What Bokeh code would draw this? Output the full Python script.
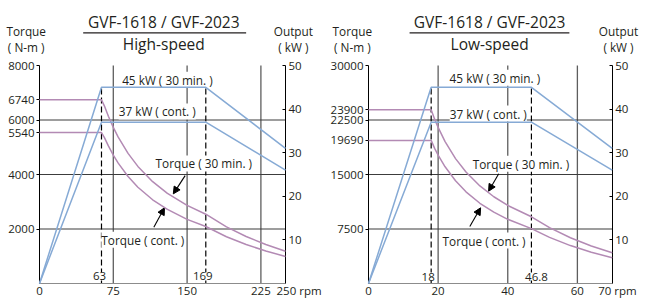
from bokeh.plotting import figure
from bokeh.models import Range1d, LinearAxis, FixedTicker, Label, Arrow, NormalHead
from bokeh.layouts import row
from bokeh.embed import file_html
from bokeh.resources import INLINE

FONT = "Open Sans"
TXT = "#231f20"
PINK = "#b38ab4"
BLUE = "#86aad5"
VGRID = "#5e5e5e"
HGRID = "#3c3c3c"

# ---------------- data: high-speed ----------------
hs_rpm = [0, 63, 66, 70, 75, 80, 90, 100, 115, 130, 150, 169, 190, 210, 230, 250]
hs_torque_30 = [6740, 6740, 6511, 6139, 5730, 5371, 4775, 4297, 3737, 3305, 2865, 2543, 2079, 1724, 1431, 1184]
hs_torque_cont = [5540, 5540, 5353, 5048, 4711, 4416, 3926, 3533, 3072, 2718, 2355, 2091, 1716, 1429, 1192, 993]
hs_power_rpm = [0, 63, 169, 250]
hs_power_30 = [0, 45, 45, 31]
hs_power_cont = [0, 37, 37, 26]
hs_base = [63, 169]
hs_base_labels = ["63", "169"]
hs_xticks = [0, 75, 150, 225, 250]
hs_yticks = [2000, 4000, 5540, 6000, 6740, 8000]
hs_xgrid = [75, 150, 225]
hs_ygrid = [2000, 4000, 6000]

# ---------------- data: low-speed ----------------
ls_rpm = [0, 18, 19, 20, 22, 25, 28, 32, 36, 40, 46.8, 52, 58, 64, 70]
ls_torque_30 = [23900, 23900, 22616, 21486, 19533, 17189, 15347, 13429, 11937, 10743, 9182, 7687, 6296, 5166, 4229]
ls_torque_cont = [19690, 19690, 18596, 17666, 16061, 14133, 12619, 11041, 9815, 8833, 7550, 6341, 5218, 4303, 3547]
ls_power_rpm = [0, 18, 46.8, 70]
ls_power_30 = [0, 45, 45, 31]
ls_power_cont = [0, 37, 37, 26]
ls_base = [18, 46.8]
ls_base_labels = ["18", "46.8"]
ls_xticks = [0, 20, 40, 60, 70]
ls_yticks = [7500, 15000, 19690, 22500, 23900, 30000]
ls_xgrid = [20, 40, 60]
ls_ygrid = [7500, 15000, 22500]

power_ticks = [10, 20, 30, 40, 50]
power_max = 50
max_power = 45

title_text = "GVF-1618 / GVF-2023"

H = 298
FRAME_TOP, FRAME_BOTTOM = 65, 283


def lab(p, x, y, text, size="11.8px", align="center", bg=None, xo=0, yo=0):
    kw = {}
    if bg:
        kw["background_fill_color"] = bg
    p.add_layout(Label(x=x, y=y, text=text, text_font=FONT, text_font_size=size,
                       text_color=TXT, text_align=align, text_baseline="middle",
                       x_offset=xo, y_offset=yo, **kw))


def panel(width, px0, px1, xmax, ymax, xticks, yticks, xgrid, ygrid,
          rpm, t30, tc, prpm, p30, pc, base, base_labels, cfg):
    # map pixel layout to data ranges so the whole canvas is the frame
    sx = (px1 - px0) / xmax
    sy = (FRAME_BOTTOM - FRAME_TOP) / ymax
    spw = (FRAME_BOTTOM - FRAME_TOP) / power_max
    xr = Range1d(-px0 / sx, (width - px0) / sx)
    yr = Range1d(-(H - FRAME_BOTTOM) / sy, FRAME_BOTTOM / sy)
    p = figure(width=width, height=H, x_range=xr, y_range=yr,
               min_border=0, output_backend="svg", toolbar_location=None,
               outline_line_color=None)
    p.extra_y_ranges = {"pw": Range1d(-(H - FRAME_BOTTOM) / spw, FRAME_BOTTOM / spw)}
    p.xgrid.visible = False
    p.ygrid.visible = False

    # grid lines
    p.segment(x0=xgrid, y0=[0] * len(xgrid), x1=xgrid, y1=[ymax] * len(xgrid),
              line_color=VGRID, line_width=1.3, level="underlay")
    p.segment(x0=[0] * len(ygrid), y0=ygrid, x1=[xmax] * len(ygrid), y1=ygrid,
              line_color=HGRID, line_width=1.2, level="underlay")

    # axes
    ya = p.yaxis[0]
    ya.fixed_location = 0
    ya.bounds = (0, ymax)
    ya.ticker = FixedTicker(ticks=yticks)
    ya.axis_line_color = "black"
    ya.major_tick_line_color = "black"
    ya.major_tick_out = 3
    ya.major_tick_in = 0
    ya.major_label_standoff = 2
    xa = p.xaxis[0]
    xa.fixed_location = 0
    xa.bounds = (0, xmax)
    xa.ticker = FixedTicker(ticks=xticks)
    xa.axis_line_color = "#8c8c8c"
    xa.axis_line_width = 1.2
    xa.major_tick_line_color = None
    xa.major_tick_out = 0
    xa.major_tick_in = 0
    xa.major_label_standoff = 3
    xa.major_label_overrides = {xticks[-1]: ""}
    ra = LinearAxis(y_range_name="pw", ticker=FixedTicker(ticks=power_ticks),
                    fixed_location=xmax, bounds=(0, power_max))
    ra.axis_line_color = "black"
    ra.major_tick_line_color = "black"
    ra.major_tick_in = 3
    ra.major_tick_out = 0
    ra.major_label_standoff = 3
    p.add_layout(ra, "right")
    for ax in (ya, xa, ra):
        ax.minor_tick_line_color = None
        ax.major_label_text_font = FONT
        ax.major_label_text_font_size = "11.5px"
        ax.major_label_text_color = TXT

    # dashed base-speed lines
    p.segment(x0=base, y0=[0, 0], x1=base, y1=[max_power, max_power], y_range_name="pw",
              line_color="black", line_width=1.2, line_dash="6 3")

    # curves (drawn above label backgrounds)
    p.line(rpm, t30, line_color=PINK, line_width=1.5, level="overlay")
    p.line(rpm, tc, line_color=PINK, line_width=1.5, level="overlay")
    p.line(prpm, p30, y_range_name="pw", line_color=BLUE, line_width=1.5, level="overlay")
    p.line(prpm, pc, y_range_name="pw", line_color=BLUE, line_width=1.5, level="overlay")

    # labels in plot
    lab(p, *cfg["kw45"], "45 kW ( 30 min. )", bg="white")
    lab(p, *cfg["kw37"], "37 kW ( cont. )", bg="white")
    lab(p, *cfg["t30"], "Torque ( 30 min. )", bg="white")
    lab(p, *cfg["tc"], "Torque ( cont. )", bg="white")
    for b, bl_, xo in zip(base, base_labels, cfg["base_xo"]):
        lab(p, b, cfg["base_y"], bl_, size="11.5px", bg="white", xo=xo)

    # arrows
    for (xs, ys, xe, ye) in cfg["arrows"]:
        p.add_layout(Arrow(end=NormalHead(size=7, fill_color="black", line_color="black"),
                           x_start=xs, y_start=ys, x_end=xe, y_end=ye,
                           line_color="black", line_width=1.1))

    # titles and axis titles
    lab(p, cfg["title_x"], cfg["title_y"], title_text, size="15.5px")
    lab(p, cfg["title_x"], cfg["sub_y"], cfg["sub"], size="15.5px")
    p.segment(x0=[cfg["ul"][0]], y0=[cfg["ul"][2]], x1=[cfg["ul"][1]], y1=[cfg["ul"][2]],
              line_color=TXT, line_width=1.2)
    lab(p, cfg["tq_x"], cfg["ax1_y"], "Torque")
    lab(p, cfg["tq_x"], cfg["ax2_y"], "( N-m )")
    lab(p, cfg["out_x"], cfg["ax1_y"], "Output")
    lab(p, cfg["out_x"], cfg["ax2_y"], "( kW )")
    lab(p, xticks[-1], cfg["rpm_y"], cfg["last"], size="11.5px", align="left", xo=cfg["last_xo"])
    return p


cfg1 = dict(kw45=(130, 7480), kw37=(119.6, 6312), t30=(167, 4404), tc=(105, 1604),
            base_xo=[-2, -3], base_y=257,
            arrows=[(148, 3960, 136, 3290), (116.2, 2066, 127, 2778)],
            title_x=126.3, title_y=9589, sub_y=8771, sub="High-speed",
            ul=(44.4, 210, 9200), tq_x=-13.5, out_x=258, ax1_y=9260, ax2_y=8690,
            rpm_y=-275, last="250 rpm", last_xo=-9)
cfg2 = dict(kw45=(36.3, 28300), kw37=(34.4, 23394), t30=(43.8, 16472), tc=(33.2, 5917),
            base_xo=[-3, 5], base_y=963,
            arrows=[(37.4, 15096, 34.5, 12700), (29.1, 7844, 32.2, 10417)],
            title_x=34.8, title_y=35958, sub_y=32891, sub="Low-speed",
            ul=(11.8, 57.7, 34500), tq_x=-4.65, out_x=71.8, ax1_y=34725, ax2_y=32590,
            rpm_y=-1030, last="70 rpm", last_xo=-14)

p1 = panel(328, 39, 285, 250, 8000, hs_xticks, hs_yticks, hs_xgrid, hs_ygrid,
           hs_rpm, hs_torque_30, hs_torque_cont, hs_power_rpm, hs_power_30, hs_power_cont,
           hs_base, hs_base_labels, cfg1)
p2 = panel(319, 40, 283.7, 70, 30000, ls_xticks, ls_yticks, ls_xgrid, ls_ygrid,
           ls_rpm, ls_torque_30, ls_torque_cont, ls_power_rpm, ls_power_30, ls_power_cont,
           ls_base, ls_base_labels, cfg2)

layout = row(p1, p2)
open("out.html", "w").write(file_html(layout, INLINE))
